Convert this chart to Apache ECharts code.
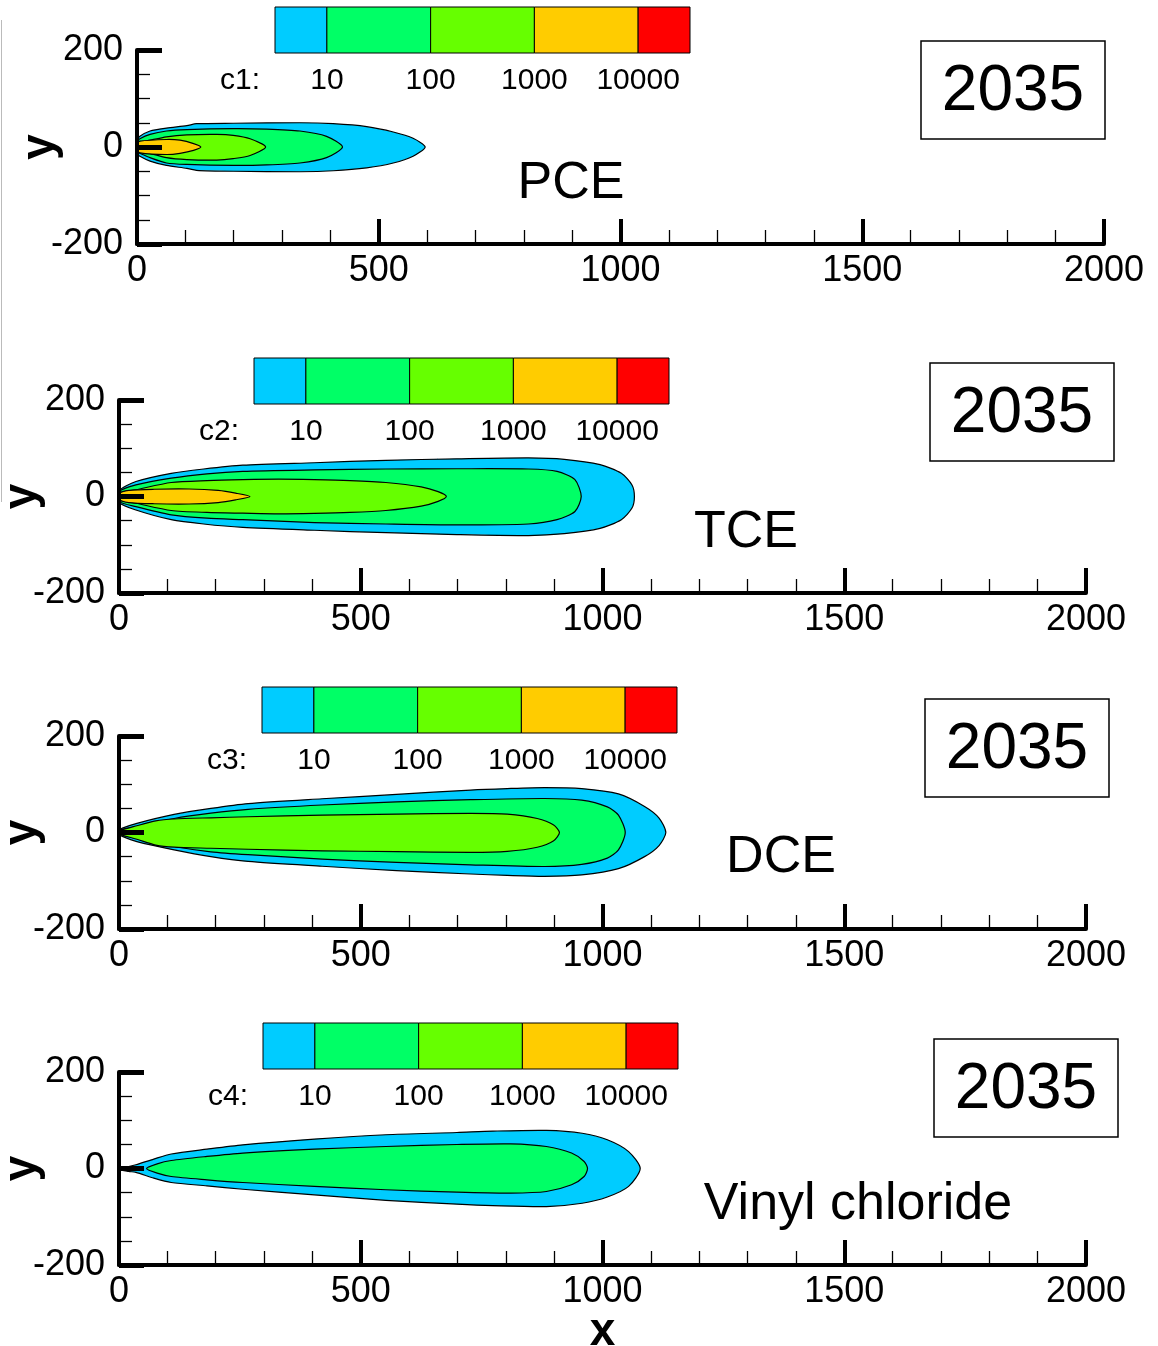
<!DOCTYPE html>
<html>
<head>
<meta charset="utf-8">
<title>Plume concentration contours, 2035</title>
<script src="https://cdn.jsdelivr.net/npm/echarts@6/dist/echarts.min.js"></script>
<style>
  html, body { margin: 0; padding: 0; background: #fff; }
  #chart { width: 1158px; height: 1346px; }
</style>
</head>
<body>
<div id="chart"></div>
<script>
// ---- Data -------------------------------------------------------------
// Contour outlines: rows of [x, y upper edge, y lower edge] (m).
// "outer" is the edge of the plotted plume (cyan band, below 10).

// PCE
var pceOuter = [[0, 14, -14], [6, 22, -19], [27, 33, -29], [61, 39, -38], [103, 44, -44], [123, 48, -48], [199, 49, -50], [337, 50, -51], [406, 48, -49], [475, 42, -43], [530, 31, -33], [571, 18, -19], [596, 0, 0]];
var pce10 = [[0, 11, -11], [6, 17, -13], [27, 26, -22], [61, 33, -33], [103, 36, -36], [199, 38, -38], [268, 37, -37], [337, 33, -33], [392, 22, -22], [425, 0, 0]];
var pce100 = [[0, 8, -8], [27, 14, -13], [61, 21, -22], [103, 25, -26], [165, 26, -27], [199, 24, -24], [234, 17, -17.5], [266, 0, 0]];
var pce1000 = [[0, 6, -6], [6, 12, -12], [61, 15.5, -15.5], [89, 14, -13], [117, 7, -7], [132, 0, 0]];

// TCE
var tceOuter = [[0, 12, -12], [35, 31, -28], [108, 48, -48], [175, 57, -57], [256, 65, -64], [404, 70, -70], [552, 75, -75], [699, 78, -79], [847, 80, -81], [921, 77, -77], [995, 66, -66], [1039, 48, -48], [1061, 24, -24], [1066, 0, 0]];
var tce10 = [[0, 10, -10], [35, 24, -21], [108, 38, -38], [182, 47, -45], [256, 52, -48], [404, 55, -54], [552, 57, -57], [699, 57.5, -59], [847, 57, -57], [906, 52, -48], [943, 35, -31], [956, 0, 0]];
var tce100 = [[0, 7, -7], [35, 14, -14], [108, 29, -29], [182, 33, -33], [256, 35, -34.6], [330, 36, -36], [404, 35, -35], [478, 33, -33], [552, 29, -29], [625, 20, -20], [660, 10, -10], [677, 0, 0]];
var tce1000 = [[0, 6, -6], [20, 12.5, -12.5], [72, 15, -15], [145, 15.5, -15.5], [205, 12.5, -12.5], [241, 7, -7], [271, 0, 0]];

// DCE
var dceOuter = [[0, 4, -4], [7, 9, -8], [37, 19, -19], [114, 37.5, -36], [190, 50, -50], [267, 60, -60], [420, 70, -70], [574, 79, -79], [727, 88, -86], [803, 91, -89], [880, 93, -91], [957, 91, -88], [1033, 80, -75], [1087, 54, -50], [1117, 30, -27], [1131, 0, 0]];
var dce10 = [[0, 4, -4], [37, 12, -12], [114, 29, -29], [190, 40, -40], [267, 48, -46], [420, 57, -55], [574, 63.5, -62], [727, 68, -67], [880, 70.5, -70.5], [957, 67, -66], [1010, 53, -53], [1033, 36, -36], [1047, 0, 0]];
var dce100 = [[0, 3, -3], [37, 14, -14], [76, 24, -26], [114, 28, -30.5], [190, 30.5, -32.6], [267, 32.6, -34.7], [420, 36, -38], [574, 38, -39.6], [727, 39.6, -41], [803, 38, -39], [865, 29, -30.5], [899, 15.5, -17], [911, 0, 0]];

// Vinyl chloride
var vcOuter = [[0, 2, -2], [20, 4, -6], [35, 7.7, -8], [72, 19.5, -20], [108, 30, -29], [182, 40, -36], [256, 49, -43], [404, 61, -54.5], [552, 70, -66], [699, 74.6, -74], [773, 77.5, -77], [884, 79, -79], [958, 73, -72], [1010, 59.5, -59], [1054, 35, -37], [1078, 0, 0]];
var vc10 = [[57, 0, 0], [79, 9.7, -9.7], [108, 16.6, -16.6], [182, 25, -23.4], [256, 32, -29], [404, 40, -37], [552, 45.6, -44], [699, 49.7, -49], [810, 51, -51], [884, 45.6, -47.7], [936, 32, -33.8], [962, 14.5, -16.6], [969, 0, 0]];

// Colour scale shared by all panels
var levelColors = ['#00CCFF', '#00FF66', '#66FF00', '#FFCC00', '#FF0000'];
var levelLabels = ['10', '100', '1000', '10000'];

// Axis ticks
var xTicks = { min: 0, max: 2000, step: 500 };
var yTicks = { min: -200, max: 200, step: 200 };

// Panel contents
var speciesNames = ['PCE', 'TCE', 'DCE', 'Vinyl chloride'];
var scaleNames = ['c1:', 'c2:', 'c3:', 'c4:'];
var yearLabel = '2035';
var panelContours = [
  [pceOuter, pce10, pce100, pce1000],
  [tceOuter, tce10, tce100, tce1000],
  [dceOuter, dce10, dce100],
  [vcOuter, vc10]
];

// ---- Layout -----------------------------------------------------------
var FONT = '"Liberation Sans", Arial, Helvetica, sans-serif';
var grids = [
  { left: 137, top: 50, width: 967, height: 194, outerBoundsMode: 'none', containLabel: false },
  { left: 119, top: 400, width: 967, height: 193, outerBoundsMode: 'none', containLabel: false },
  { left: 119, top: 736, width: 967, height: 193, outerBoundsMode: 'none', containLabel: false },
  { left: 119, top: 1072, width: 967, height: 193, outerBoundsMode: 'none', containLabel: false }
];
var colorBarPos = [[275, 7], [254, 358], [262, 687], [263, 1023]];
var yearBoxPos = [[921, 41], [930, 363], [925, 699], [934, 1039]];
var speciesPos = [[571, 184], [746, 533], [781, 858], [858, 1205]];

// ---- Build option -----------------------------------------------------
var xAxes = [], yAxes = [], series = [], graphics = [];
var plainNumber = function (v) { return String(v); };

grids.forEach(function (g, i) {
  xAxes.push({
    gridIndex: i, type: 'value',
    min: xTicks.min, max: xTicks.max, interval: xTicks.step,
    name: i === 3 ? 'x' : '',
    nameLocation: 'middle', nameGap: 44, nameMoveOverlap: false,
    nameTextStyle: { fontFamily: FONT, fontSize: 46, fontWeight: 'bold', color: '#000' },
    z: 10,
    axisLine: { show: true, onZero: false, lineStyle: { color: '#000', width: 4 } },
    axisTick: { show: true, inside: true, length: 25, lineStyle: { color: '#000', width: 4 } },
    minorTick: { show: true, splitNumber: 5, length: 14, lineStyle: { color: '#000', width: 1.3 } },
    axisLabel: { fontFamily: FONT, fontSize: 36, color: '#000', margin: 9, formatter: plainNumber },
    splitLine: { show: false }
  });
  yAxes.push({
    gridIndex: i, type: 'value',
    min: yTicks.min, max: yTicks.max, interval: yTicks.step,
    name: 'y', nameLocation: 'middle', nameGap: 74, nameRotate: 90, nameMoveOverlap: false,
    nameTextStyle: { fontFamily: FONT, fontSize: 46, fontWeight: 'bold', color: '#000' },
    z: 10,
    axisLine: { show: true, onZero: false, lineStyle: { color: '#000', width: 4 } },
    axisTick: { show: true, inside: true, length: 25, lineStyle: { color: '#000', width: 5 } },
    minorTick: { show: true, splitNumber: 4, length: 13, lineStyle: { color: '#000', width: 1.3 } },
    axisLabel: { fontFamily: FONT, fontSize: 36, color: '#000', margin: 14, formatter: plainNumber },
    splitLine: { show: false }
  });

  // filled contour bands, outermost first
  panelContours[i].forEach(function (rows, k) {
    series.push({
      type: 'custom',
      coordinateSystem: 'cartesian2d',
      xAxisIndex: i, yAxisIndex: i,
      z: 2 + k, silent: true,
      data: [[rows[0][0], 0]],
      renderItem: function (params, api) {
        var upper = rows.map(function (r) { return api.coord([r[0], r[1]]); });
        var lowerRows = rows.slice(0, -1).reverse();
        if (rows[0][1] === rows[0][2]) lowerRows = lowerRows.slice(0, -1);
        var lower = lowerRows.map(function (r) { return api.coord([r[0], r[2]]); });
        return {
          type: 'polygon',
          shape: { points: upper.concat(lower), smooth: 0.25 },
          style: { fill: levelColors[k], stroke: '#000', lineWidth: 1.2 }
        };
      }
    });
  });

  // colour bar
  var cb = colorBarPos[i], cbW = 415, cbH = 46, unit = cbW / 8;
  var edges = [0, 1, 3, 5, 7, 8];
  for (var s = 0; s < levelColors.length; s++) {
    graphics.push({
      type: 'rect',
      shape: { x: cb[0] + edges[s] * unit, y: cb[1], width: (edges[s + 1] - edges[s]) * unit, height: cbH },
      style: { fill: levelColors[s], stroke: '#000', lineWidth: 1 }
    });
  }
  graphics.push({
    type: 'text', x: cb[0] - 35, y: cb[1] + cbH + 28,
    style: { text: scaleNames[i], font: '30px ' + FONT, fill: '#000', align: 'center', verticalAlign: 'middle' }
  });
  levelLabels.forEach(function (lab, j) {
    graphics.push({
      type: 'text', x: cb[0] + edges[j + 1] * unit, y: cb[1] + cbH + 28,
      style: { text: lab, font: '30px ' + FONT, fill: '#000', align: 'center', verticalAlign: 'middle' }
    });
  });

  // year box
  var yb = yearBoxPos[i];
  graphics.push({
    type: 'rect', shape: { x: yb[0], y: yb[1], width: 184, height: 98 },
    style: { fill: '#fff', stroke: '#000', lineWidth: 1.5 }
  });
  graphics.push({
    type: 'text', x: yb[0] + 92, y: yb[1] + 51,
    style: { text: yearLabel, font: '64px ' + FONT, fill: '#000', align: 'center', verticalAlign: 'middle' }
  });

  // species name
  graphics.push({
    type: 'text', x: speciesPos[i][0], y: speciesPos[i][1],
    style: { text: speciesNames[i], font: '52px ' + FONT, fill: '#000', align: 'center', verticalAlign: 'middle' }
  });
});

// thin grey rule along the left edge
graphics.push({
  type: 'line', shape: { x1: 1.5, y1: 20, x2: 1.5, y2: 502 },
  style: { stroke: '#bbbbbb', lineWidth: 1 }
});

var chart = echarts.init(document.getElementById('chart'), null, { renderer: 'canvas' });
chart.setOption({
  backgroundColor: '#ffffff',
  animation: false,
  grid: grids,
  xAxis: xAxes,
  yAxis: yAxes,
  series: series,
  graphic: graphics
});
</script>
</body>
</html>
